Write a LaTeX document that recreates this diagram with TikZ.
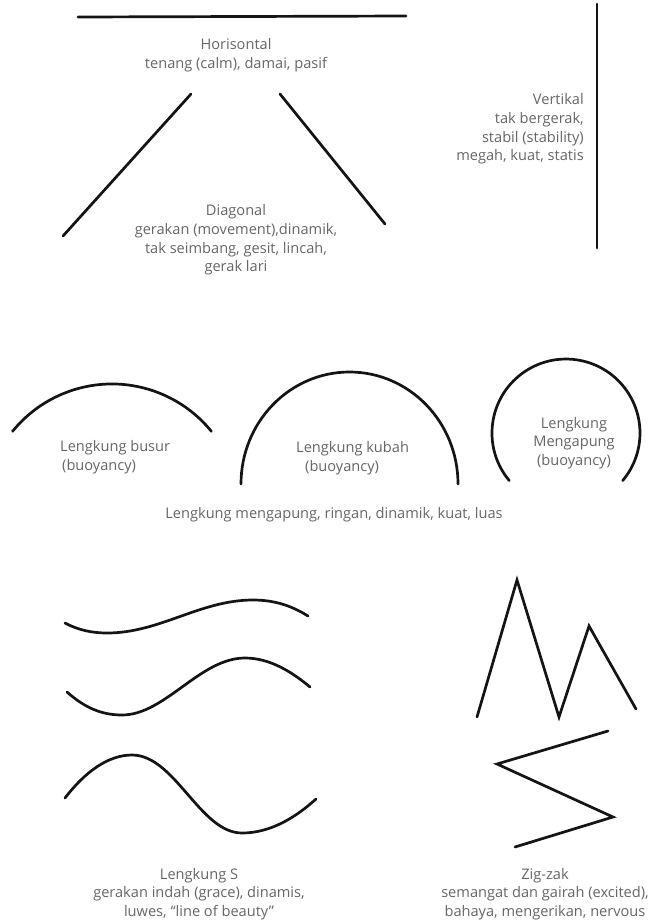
\documentclass[tikz,border=0pt]{standalone}
\usepackage{fontspec}
\setmainfont{Open Sans}
\begin{document}
\begin{tikzpicture}[x=1pt,y=1pt,
  ln/.style={line width=2.7pt, draw=black!92, line cap=round, line join=miter},
  lbl/.style={text=black!60, font=\fontsize{14.6}{18.6}\selectfont, align=center, inner sep=0pt},
]
\useasboundingbox[fill=white] (0,0) rectangle (650,-922);

% Horizontal & vertical & diagonal
\draw[ln] (78,-17) -- (406,-16);
\draw[ln] (191,-94) -- (63,-236);
\draw[ln] (280,-94) -- (385,-224);
\draw[ln] (597,-4) -- (597,-248);

\node[lbl] (horis) at (236,-55.5) {Horisontal\\tenang (calm), damai, pasif};
\node[lbl] (diag) at (236,-240) {Diagonal\\gerakan (movement),dinamik,\\tak seimbang, gesit, lincah,\\gerak lari};
\node[lbl, align=right, anchor=east] (vert) at (584,-129) {Vertikal\\tak bergerak,\\stabil (stability)\\megah, kuat, statis};

% Curves
\draw[ln] (12.5,-431.4) arc[start angle=141, end angle=39, radius=128];
\draw[ln] (241,-484) arc[start angle=180, end angle=0, x radius=108.5, y radius=112];
\draw[ln] (509.3,-480.6) arc[start angle=220, end angle=-40, radius=74];

\node[lbl, align=left, anchor=west] (busur) at (60,-457) {Lengkung busur\\\hspace*{2pt}(buoyancy)};
\node[lbl, align=left, anchor=west] (kubah) at (296,-458) {Lengkung kubah\\\hspace*{9pt}(buoyancy)};
\node[lbl] (apung) at (574,-443) {Lengkung\\Mengapung\\(buoyancy)};
\node[lbl] (capt) at (334,-515) {Lengkung mengapung, ringan, dinamik, kuat, luas};

% S curves
\draw[ln] (65,-623) .. controls (78,-630) and (92,-633) .. (107,-633)
  .. controls (160,-633) and (200,-600) .. (253,-600)
  .. controls (275,-600) and (292,-606) .. (308,-616);
\draw[ln] (67,-692) .. controls (85,-708) and (102,-715) .. (122,-715)
  .. controls (165,-715) and (200,-658) .. (245,-658)
  .. controls (270,-658) and (292,-672) .. (310,-687);
\draw[ln] (65,-798) .. controls (85,-772) and (108,-755) .. (132,-755)
  .. controls (175,-755) and (200,-833) .. (242,-833)
  .. controls (270,-833) and (295,-818) .. (316,-799);

% Zig-zag
\draw[ln] (477,-717) -- (517,-580) -- (559,-717) -- (589,-626) -- (636,-709);
\draw[ln] (608,-731) -- (497,-764) -- (613,-817) -- (515,-847);

\node[lbl] (stxt) at (199,-894) {Lengkung S\\gerakan indah (grace), dinamis,\\luwes, “line of beauty”};
\node[lbl] (ztxt) at (545,-894) {Zig-zak\\semangat dan gairah (excited),\\bahaya, mengerikan, nervous};
\end{tikzpicture}
\end{document}
